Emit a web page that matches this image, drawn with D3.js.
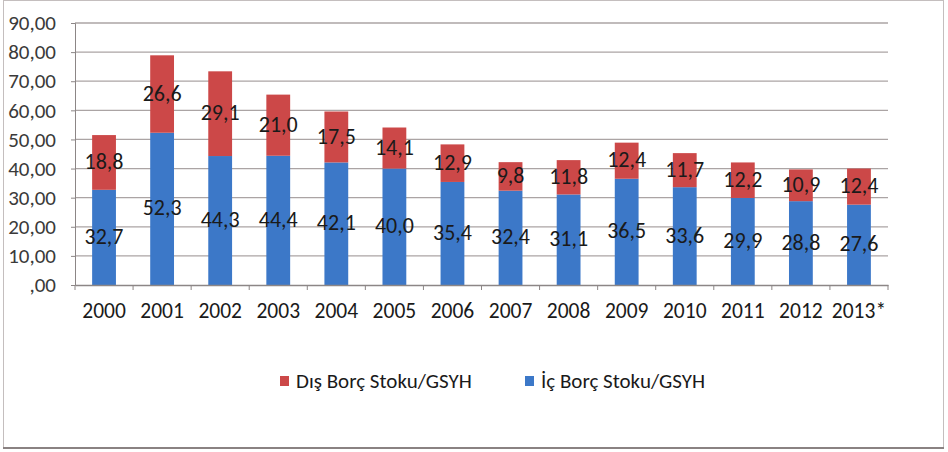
<!DOCTYPE html>
<html>
<head>
<meta charset="utf-8">
<script src="https://cdn.jsdelivr.net/npm/d3@7"></script>
<style>
  body { margin: 0; background: #fff; }
  svg { display: block; }
  svg text { font-family: Calibri, Carlito, "Open Sans", sans-serif; }
</style>
</head>
<body>
<div id="chart"></div>
<script>
const years = ['2000', '2001', '2002', '2003', '2004', '2005', '2006', '2007', '2008', '2009', '2010', '2011', '2012', '2013*'];
const icBorc = [32.7, 52.3, 44.3, 44.4, 42.1, 40.0, 35.4, 32.4, 31.1, 36.5, 33.6, 29.9, 28.8, 27.6];
const disBorc = [18.8, 26.6, 29.1, 21.0, 17.5, 14.1, 12.9, 9.8, 11.8, 12.4, 11.7, 12.2, 10.9, 12.4];
const yTicks = [0, 10, 20, 30, 40, 50, 60, 70, 80, 90];
const seriesNames = ['Dış Borç Stoku/GSYH', 'İç Borç Stoku/GSYH'];

const width = 948, height = 452;
const colors = { dis: '#cc4848', ic: '#3c78c8' };

const svg = d3.select('#chart').append('svg')
  .attr('width', width)
  .attr('height', height);

// outer frame
svg.append('rect')
  .attr('x', 3.5).attr('y', 0.5)
  .attr('width', 940).attr('height', 447)
  .attr('fill', '#fff')
  .attr('stroke', '#c4bebe')
  .attr('stroke-width', 1);
svg.append('line')
  .attr('x1', 3).attr('x2', 944)
  .attr('y1', 448).attr('y2', 448)
  .attr('stroke', '#8a8282').attr('stroke-width', 2);

const x = d3.scaleBand()
  .domain(years)
  .range([75, 888])
  .paddingInner(0.59)
  .paddingOuter(0.295);

const y = d3.scaleLinear()
  .domain([0, 90])
  .range([285, 23]);

// gridlines
svg.append('g')
  .selectAll('line')
  .data(yTicks.slice(1))
  .join('line')
  .attr('x1', 75).attr('x2', 888)
  .attr('y1', d => y(d)).attr('y2', d => y(d))
  .attr('stroke', '#aba4a4')
  .attr('stroke-width', 1.3);

// y axis
const yAxis = svg.append('g')
  .attr('transform', 'translate(75,0)')
  .call(d3.axisLeft(y).tickValues(yTicks).tickSize(4)
    .tickFormat(d => d === 0 ? ',00' : d3.format('.2f')(d).replace('.', ',')));
yAxis.select('.domain').attr('stroke', '#8c8686');
yAxis.selectAll('.tick line').attr('stroke', '#8c8686');
yAxis.selectAll('text')
  .attr('fill', '#3a3a3a')
  .attr('font-size', 21)
  .attr('x', -19);

// stacked bars
const rows = years.map((yr, i) => ({ yr, ic: icBorc[i], dis: disBorc[i] }));
const stack = d3.stack().keys(['ic', 'dis'])(rows);

const layers = svg.append('g')
  .selectAll('g')
  .data(stack)
  .join('g')
  .attr('fill', d => colors[d.key]);

layers.selectAll('rect')
  .data(d => d)
  .join('rect')
  .attr('x', d => x(d.data.yr))
  .attr('width', x.bandwidth())
  .attr('y', d => y(d[1]))
  .attr('height', d => y(d[0]) - y(d[1]));

// data labels
svg.append('g')
  .selectAll('g')
  .data(stack)
  .join('g')
  .selectAll('text')
  .data(d => d.map(s => ({ s, key: d.key })))
  .join('text')
  .attr('x', d => x(d.s.data.yr) + x.bandwidth() / 2)
  .attr('y', d => y((d.s[0] + d.s[1]) / 2))
  .attr('dy', '0.3em')
  .attr('text-anchor', 'middle')
  .attr('font-size', 22)
  .attr('fill', '#1a1a1a')
  .text(d => d3.format('.1f')(d.s.data[d.key]).replace('.', ','));

// x axis
const xAxis = svg.append('g')
  .attr('transform', 'translate(0,285)')
  .call(d3.axisBottom(x).tickSize(0).tickPadding(18));
xAxis.select('.domain').attr('stroke', '#8c8686').attr('stroke-width', 1.3);
xAxis.selectAll('text')
  .attr('fill', '#1a1a1a')
  .attr('font-size', 21.5);

// category separator ticks
const bounds = d3.range(years.length + 1).map(i => 75 + i * x.step());
svg.append('g')
  .selectAll('line')
  .data(bounds)
  .join('line')
  .attr('x1', d => d).attr('x2', d => d)
  .attr('y1', 285).attr('y2', 290)
  .attr('stroke', '#8c8686');

// legend
const legend = svg.append('g').attr('transform', 'translate(0,381)');
const legendItems = [
  { name: seriesNames[0], color: colors.dis, x: 280 },
  { name: seriesNames[1], color: colors.ic, x: 525 }
];
const li = legend.selectAll('g')
  .data(legendItems)
  .join('g')
  .attr('transform', d => `translate(${d.x},0)`);
li.append('rect')
  .attr('x', 0).attr('y', -5)
  .attr('width', 9).attr('height', 10)
  .attr('fill', d => d.color);
li.append('text')
  .attr('x', 16)
  .attr('dy', '0.35em')
  .attr('font-size', 21)
  .attr('fill', '#1a1a1a')
  .text(d => d.name);
</script>
</body>
</html>
